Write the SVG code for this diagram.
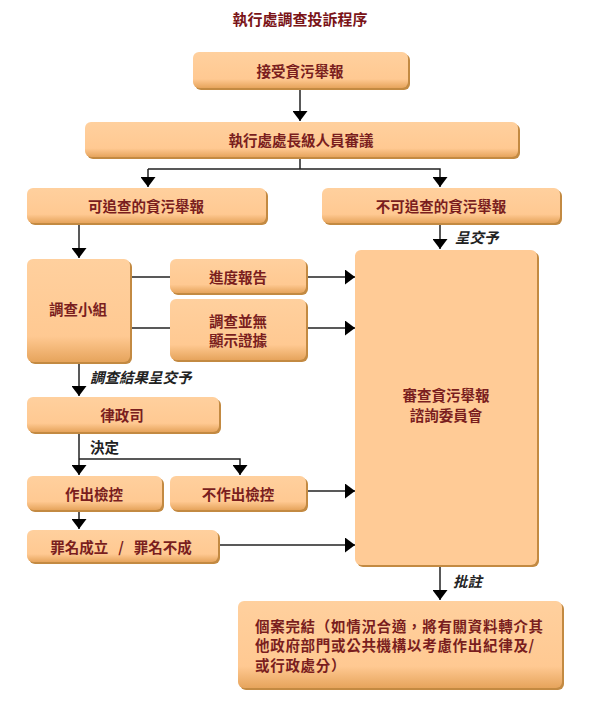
<svg xmlns="http://www.w3.org/2000/svg" width="600" height="703" viewBox="0 0 600 703">
<style>
.sh{fill:#C38A42;}
.bx{fill:url(#g);}
.t{font-family:"Noto Sans CJK TC","Noto Sans CJK SC",sans-serif;font-weight:bold;font-size:14.5px;fill:#7A1E1E;text-anchor:middle;dominant-baseline:central;}
.tl{text-anchor:start;letter-spacing:0.7px;}
.lb{font-family:"Noto Sans CJK TC","Noto Sans CJK SC",sans-serif;font-weight:bold;font-size:14.5px;fill:#222;dominant-baseline:central;}
.it{font-style:italic;}
.ln{fill:none;stroke:#222;stroke-width:1.5;}
</style>
<defs>
<linearGradient id="g" x1="0" y1="0" x2="0" y2="1">
<stop offset="0" stop-color="#FFD09E"/>
<stop offset="0.75" stop-color="#FFC992"/>
<stop offset="1" stop-color="#E6A45C"/>
</linearGradient>
<marker id="ah" markerUnits="userSpaceOnUse" markerWidth="11" markerHeight="15" refX="10" refY="7.5" orient="auto">
<path d="M0,0 L10,7.5 L0,15 Z" fill="#000"/>
</marker>
</defs>
<text x="300" y="18" class="t" style="font-size:15px;fill:#7A1418">執行處調查投訴程序</text>

<g id="connectors">
<line class="ln" x1="300" y1="88" x2="300" y2="121" marker-end="url(#ah)"/>
<polyline class="ln" points="300,157 300,169"/>
<polyline class="ln" points="148,169 440,169 440,187" marker-end="url(#ah)"/>
<line class="ln" x1="148" y1="169" x2="148" y2="187" marker-end="url(#ah)"/>
<line class="ln" x1="79" y1="223" x2="79" y2="258" marker-end="url(#ah)"/>
<line class="ln" x1="440" y1="223" x2="440" y2="249" marker-end="url(#ah)"/>
<line class="ln" x1="130" y1="277" x2="170" y2="277"/>
<line class="ln" x1="130" y1="328" x2="170" y2="328"/>
<line class="ln" x1="306" y1="277" x2="355" y2="277" marker-end="url(#ah)"/>
<line class="ln" x1="306" y1="328" x2="355" y2="328" marker-end="url(#ah)"/>
<line class="ln" x1="79" y1="362" x2="79" y2="396" marker-end="url(#ah)"/>
<line class="ln" x1="79" y1="432" x2="79" y2="475" marker-end="url(#ah)"/>
<polyline class="ln" points="79,459 240,459 240,475" marker-end="url(#ah)"/>
<line class="ln" x1="306" y1="491" x2="355" y2="491" marker-end="url(#ah)"/>
<line class="ln" x1="79" y1="510" x2="79" y2="529" marker-end="url(#ah)"/>
<line class="ln" x1="218" y1="545" x2="355" y2="545" marker-end="url(#ah)"/>
<line class="ln" x1="440" y1="564" x2="440" y2="600" marker-end="url(#ah)"/>
<text x="455" y="236" class="lb it">呈交予</text>
<text x="90" y="376" class="lb it">調查結果呈交予</text>
<text x="90" y="446" class="lb">決定</text>
<text x="453" y="580" class="lb it">批註</text>
</g>

<g id="n1"><rect class="sh" x="195" y="54" width="215" height="36" rx="6"/><rect class="bx" x="193" y="52" width="215" height="36" rx="6"/><text x="300" y="70" class="t">接受貪污舉報</text></g>
<g id="n2"><rect class="sh" x="87" y="124" width="433" height="35" rx="6"/><rect class="bx" x="85" y="122" width="433" height="35" rx="6"/><text x="301" y="139" class="t">執行處處長級人員審議</text></g>
<g id="n3"><rect class="sh" x="29" y="190" width="239" height="35" rx="6"/><rect class="bx" x="27" y="188" width="239" height="35" rx="6"/><text x="146" y="205" class="t">可追查的貪污舉報</text></g>
<g id="n4"><rect class="sh" x="324" y="190" width="238" height="35" rx="6"/><rect class="bx" x="322" y="188" width="238" height="35" rx="6"/><text x="441" y="205" class="t">不可追查的貪污舉報</text></g>
<g id="n5"><rect class="sh" x="29" y="261" width="103" height="103" rx="6"/><rect class="bx" x="27" y="259" width="103" height="103" rx="6"/><text x="78" y="308" class="t">調查小組</text></g>
<g id="n6"><rect class="sh" x="172" y="261" width="136" height="34" rx="6"/><rect class="bx" x="170" y="259" width="136" height="34" rx="6"/><text x="238" y="276" class="t">進度報告</text></g>
<g id="n7"><rect class="sh" x="172" y="301" width="136" height="61" rx="6"/><rect class="bx" x="170" y="299" width="136" height="61" rx="6"/><text x="238" y="320" class="t">調查並無</text><text x="238" y="339" class="t">顯示證據</text></g>
<g id="n8"><rect class="sh" x="357" y="252" width="182" height="315" rx="6"/><rect x="355" y="250" width="182" height="315" rx="6" fill="#FFCB96"/><text x="446" y="394" class="t">審查貪污舉報</text><text x="446" y="414" class="t">諮詢委員會</text></g>
<g id="n9"><rect class="sh" x="29" y="399" width="192" height="35" rx="6"/><rect class="bx" x="27" y="397" width="192" height="35" rx="6"/><text x="122" y="414" class="t">律政司</text></g>
<g id="n10"><rect class="sh" x="29" y="478" width="135" height="34" rx="6"/><rect class="bx" x="27" y="476" width="135" height="34" rx="6"/><text x="94" y="493" class="t">作出檢控</text></g>
<g id="n11"><rect class="sh" x="172" y="478" width="136" height="34" rx="6"/><rect class="bx" x="170" y="476" width="136" height="34" rx="6"/><text x="238" y="493" class="t">不作出檢控</text></g>
<g id="n12"><rect class="sh" x="29" y="532" width="191" height="32" rx="6"/><rect class="bx" x="27" y="530" width="191" height="32" rx="6"/><text x="121" y="546" class="t">罪名成立&#160;&#160;&#160;/&#160;&#160;&#160;罪名不成</text></g>
<g id="n13"><rect class="sh" x="240" y="603" width="324" height="87" rx="6"/><rect class="bx" x="238" y="601" width="324" height="87" rx="6"/>
<text x="255" y="625" class="t tl">個案完結（如情況合適，將有關資料轉介其</text>
<text x="255" y="644.5" class="t tl">他政府部門或公共機構以考慮作出紀律及/</text>
<text x="255" y="664" class="t tl">或行政處分）</text></g>
</svg>
